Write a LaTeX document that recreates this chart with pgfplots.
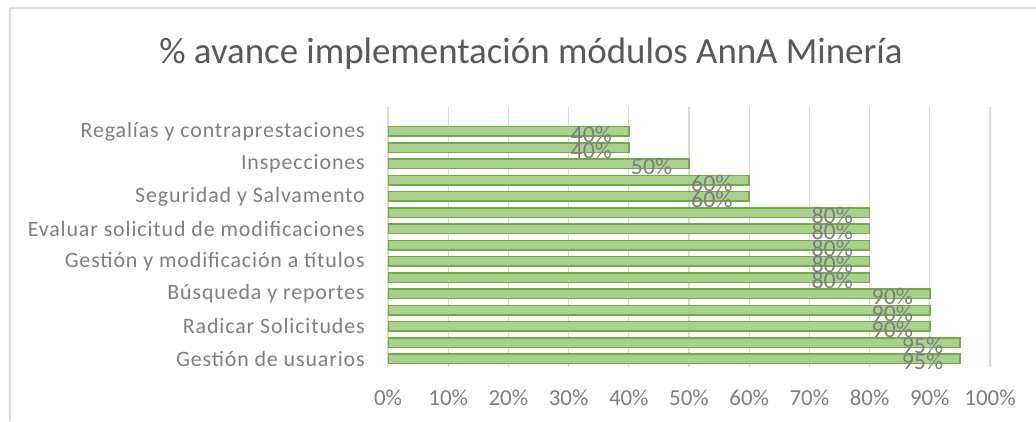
\documentclass[border=0pt]{standalone}
\usepackage{fontspec}
\setmainfont{Carlito}
\newfontfamily\spaced[LetterSpace=4]{Carlito}
\usepackage{pgfplots}
\pgfplotsset{compat=1.18}
\definecolor{barfill}{HTML}{A9D18E}
\definecolor{baredge}{HTML}{70AD47}
\definecolor{txt}{HTML}{7F7F7F}
\definecolor{ttl}{HTML}{595959}
\definecolor{gridc}{HTML}{D9D9D9}

\begin{document}
\begin{tikzpicture}[x=1bp,y=1bp]
  \useasboundingbox (0,0) rectangle (1036,421);
  \fill[white] (0,0) rectangle (1036,421);
  \draw[gridc, line width=1.5bp] (10,0) -- (10,413) -- (1036,413);
  \node[text=ttl, font=\fontsize{37}{40}\selectfont] at (531,367)
    {\% avance implementación módulos AnnA Minería};
  \begin{axis}[
    at={(388bp,54bp)}, anchor=south west,
    scale only axis, width=602bp, height=260bp,
    xbar, bar width=9.5bp,
    xmin=0, xmax=100, ymin=0.5, ymax=16.5,
    axis lines*=left,
    x axis line style={draw=none},
    y axis line style={gridc, line width=1.2bp},
    xmajorgrids, grid style={gridc, line width=1.2bp},
    major tick length=0pt,
    xtick={0,10,...,100},
    xticklabel={\pgfmathprintnumber{\tick}\%},
    /pgf/number format/assume math mode=true,
    ytick={1,3,...,15},
    yticklabels={Gestión de usuarios, Radicar Solicitudes, Búsqueda y reportes,
      Gestión y modificación a títulos, Evaluar solicitud de modificaciones,
      Seguridad y Salvamento\ , Inspecciones, Regalías y contraprestaciones},
    xticklabel style={text=txt, font=\fontsize{23}{26}\selectfont, inner sep=0pt, yshift=-23bp},
    yticklabel style={text=txt, font=\spaced\fontsize{22}{26}\selectfont, inner sep=0pt, xshift=-23bp},
    nodes near coords={\pgfmathprintnumber{\pgfplotspointmeta}\%},
    every node near coord/.append style={anchor=east, inner sep=0pt, xshift=-16bp, yshift=-3bp,
      text=txt, font=\fontsize{24}{26}\selectfont},
  ]
    \addplot[fill=barfill, draw=baredge, line width=1.5bp] coordinates {
      (95,1) (95,2) (90,3) (90,4) (90,5) (80,6) (80,7) (80,8)
      (80,9) (80,10) (60,11) (60,12) (50,13) (40,14) (40,15)
    };
  \end{axis}
\end{tikzpicture}
\end{document}
